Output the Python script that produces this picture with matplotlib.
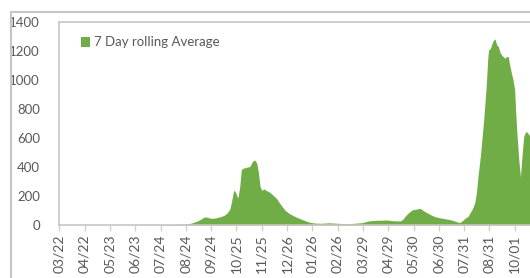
import matplotlib
matplotlib.use("Agg")
import matplotlib.pyplot as plt
from matplotlib.patches import Rectangle

# days since 2020-03-22 and 7 day rolling average
days = [0, 60, 100, 130, 150, 158, 163, 168, 172, 176, 179, 182, 186, 191,
        196, 200, 203, 206, 209, 211, 213, 214, 216, 218, 219, 221, 223, 225,
        228, 231, 233, 235, 237, 239, 240, 242, 244, 246, 248, 251, 254, 258,
        262, 266, 270, 274, 277, 281, 285, 290, 297, 303, 307, 314, 321, 331,
        340, 347, 354, 362, 371, 375, 379, 387, 395, 401, 405, 410, 418, 421,
        424, 428, 432, 436, 438, 442, 444, 448, 452, 456, 460, 466, 472, 477,
        482, 487, 490, 493, 497, 501, 503, 506, 509, 511, 513, 516, 518, 520,
        523, 525, 526, 528, 529, 531, 533, 534, 535, 536, 538, 540, 542, 544,
        546, 548, 550, 552, 554, 556, 558, 559, 560, 561, 563, 565, 567, 569,
        571, 572, 574, 577, 585]
rolling_avg = [0, 0, 1, 3, 5, 8, 15, 25, 35, 50, 56, 52, 46, 48,
               55, 62, 70, 85, 110, 160, 220, 241, 225, 195, 190, 260, 380, 392,
               395, 402, 400, 420, 440, 448, 445, 425, 360, 265, 240, 248, 237, 225,
               205, 184, 150, 120, 100, 82, 69, 55, 39, 26, 18, 13, 12, 15,
               12, 10, 9, 12, 16, 22, 28, 32, 33, 35, 32, 29, 28, 40,
               62, 85, 103, 108, 110, 115, 108, 92, 80, 68, 58, 50, 44, 39,
               32, 23, 16, 25, 46, 60, 81, 110, 152, 220, 333, 480, 600, 725,
               950, 1150, 1208, 1215, 1230, 1265, 1280, 1283, 1260, 1242, 1230, 1190, 1173, 1160,
               1150, 1162, 1161, 1100, 1047, 1000, 932, 800, 700, 609, 450, 333, 480, 609,
               640, 644, 635, 609, 580]

tick_days = [31 * i for i in range(19)]
tick_labels = ["03/22", "04/22", "05/23", "06/23", "07/24", "08/24", "09/24",
               "10/25", "11/25", "12/26", "01/26", "02/26", "03/29", "04/29",
               "05/30", "06/30", "07/31", "08/31", "10/01"]

green = "#70ad47"
grey_line = "#c6c6c6"
text_col = "#595959"

plt.rcParams["font.family"] = ["Lato", "DejaVu Sans"]

W, H = 530, 278
fig = plt.figure(figsize=(W / 100, H / 100), dpi=100)

# outer chart border (cut off on the right and bottom)
fig.patches.append(Rectangle((11 / W, -0.1), 1.2, 1 - 12 / H + 0.1,
                             transform=fig.transFigure, fill=False,
                             edgecolor=grey_line, linewidth=1.5))

left, bottom, top = 59.3, 225, 22
px_per_day = 25.3 / 31
xmax = 600
ax = fig.add_axes([left / W, (H - bottom) / H,
                   xmax * px_per_day / W, (bottom - top) / H])

ax.fill_between(days, rolling_avg, color=green, linewidth=0,
                label="7 Day rolling Average")

ax.set_xlim(0, xmax)
ax.set_ylim(0, 1400)
ax.set_yticks(range(0, 1401, 200))
ax.set_xticks(tick_days)
ax.set_xticklabels(tick_labels, rotation=90)

ax.tick_params(axis="y", length=0, pad=14, labelsize=9.5, labelcolor=text_col)
ax.tick_params(axis="x", length=4, width=1, color="#d0d0d0", pad=3,
               labelsize=10, labelcolor=text_col)

for side in ["left", "bottom", "top"]:
    ax.spines[side].set_color(grey_line)
    ax.spines[side].set_linewidth(1.2)
ax.spines["right"].set_visible(False)

ax.legend(loc="upper left", bbox_to_anchor=(16 / (xmax * px_per_day), 0.955),
          frameon=False, fontsize=9.5, labelcolor=text_col,
          handlelength=0.75, handleheight=0.75, handletextpad=0.25,
          borderaxespad=0)

fig.savefig("out.png", dpi=100)
